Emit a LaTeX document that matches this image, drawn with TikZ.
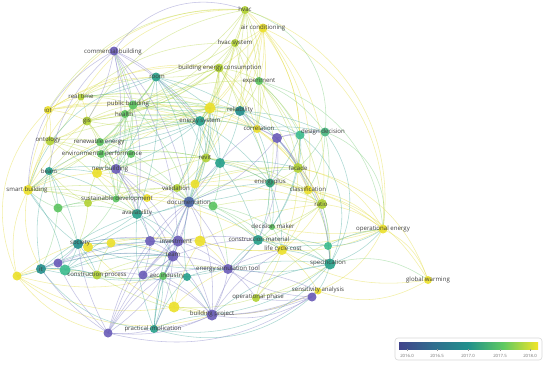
\documentclass[tikz,border=0pt]{standalone}
\usepackage{fontspec}
\setmainfont{Open Sans}
\pgfdeclarelayer{bglayer}
\pgfdeclarelayer{edgelayer}
\pgfsetlayers{bglayer,edgelayer,main}
\definecolor{cp}{HTML}{6A5CB8}
\definecolor{cb}{HTML}{4A64A4}
\definecolor{ct}{HTML}{26A08A}
\definecolor{ctd}{HTML}{238E8C}
\definecolor{ct2}{HTML}{3CBC8E}
\definecolor{ctg}{HTML}{2AA078}
\definecolor{cg}{HTML}{5CC460}
\definecolor{cg2}{HTML}{4AB880}
\definecolor{cyg}{HTML}{B2D234}
\definecolor{cy}{HTML}{ECE02A}
\definecolor{ey}{HTML}{E4DC3A}
\definecolor{eyg}{HTML}{B8D84A}
\definecolor{eg}{HTML}{78CC78}
\definecolor{et}{HTML}{48AAA0}
\definecolor{ep}{HTML}{7F7CC6}
\definecolor{v0}{HTML}{41448B}
\definecolor{v1}{HTML}{2F6E8E}
\definecolor{v2}{HTML}{21908C}
\definecolor{v3}{HTML}{5EC962}
\definecolor{v4}{HTML}{F2E527}
\tikzset{
  dotnode/.style={circle, inner sep=0pt, minimum size=#1, draw=none},
  lbl/.style={font=\fontsize{6.1}{6.7}\selectfont, text=black!75, inner sep=0pt},
  edgeline/.style={line width=0.55pt, draw opacity=0.45},
  barlbl/.style={font=\fontsize{4.3}{5}\selectfont, text=black!55, inner sep=0pt},
}
\begin{document}
\begin{tikzpicture}[x=1pt,y=-1pt]
\useasboundingbox (0,0) rectangle (550,365);
\begin{pgfonlayer}{bglayer}
\fill[white] (0,0) rectangle (550,365);
\end{pgfonlayer}
% nodes
\foreach \n/\x/\y/\c/\s in {
hvac/245/10/cyg/8, aircon/263/28/cy/9, hvacsys/235/43/cyg/8, commercial/114/51/cp/9,
bec/219/68/cyg/9, experiment/259/81/cg/8, room/156/77/ct/9, realtime/81/97/cyg/7,
iot/48/110/cy/8, public/133/105/cg/9, health/125/114/cg/8, bigy/210/108/cy/11,
reliability/240/111/ctd/10, gis/87/121/cyg/9, energysys/200/121/ct/10, correlation/257/129/cy/8,
purp1/277/138/cp/10, teal1/300/135/ct2/9, designdec/325/132/cg2/9, ontology/50/141/cyg/9,
renewable/100/142/cg/8, envperf/101/154/cg/8, green2/131/154/cg/8, revit/206/158/cyg/9,
teal2/220/163/ct/10, facade/298/168/cyg/10, beam/49/171/ct/8, newb/116/169/cp/10,
yel2/97/173/cy/10, energyplus/270/183/ctg/9, classif/308/190/cy/9, smart/28/190/cy/10,
validation/177/188/cyg/8, yel3/195/184/cy/9, ratio/322/204/cyg/10, sustdev/116/199/cg/7,
yel4/147/198/cy/8, green3/88/203/cyg/8, documentation/189/202/cb/11, green4/213/206/cg/9,
green5/58/208/cg/9, availability/137/214/ct/10, decmaker/272/227/cg/6, constmat/258/240/ct/10,
opener/383/229/cy/9, lcc/282/250/cy/10, teal3/328/246/ct2/8, spec/330/264/ct/11,
society/78/244/ctd/10, yel5/88/247/cy/10, yel6/111/243/cy/9, purp2/150/241/cp/10,
investment/178/241/cp/11, yel7/200/241/cy/11, team/173/256/cp/11, globalw/428/280/cy/8,
purp3/58/263/cp/9, it/41/269/ctd/10, teal4/65/270/ct2/11, yel8/17/276/cy/9,
constproc/97/275/cyg/9, purp4/143/275/cp/9, aec/163/276/cg/8, teal5/187/277/ct/8,
est/228/269/cp/10, sensit/318/291/cy/7, purp5/312/297/cp/9, opphase/256/298/cyg/8,
yel9/174/307/cy/11, bproject/212/315/cp/11, practical/154/329/ct/8, purp6/108/333/cp/9}
  \node[dotnode=\s, fill=\c, fill opacity=0.9] (\n) at (\x,\y) {};
% edges
\begin{pgfonlayer}{edgelayer}
\foreach \a/\b/\k in {
aircon/hvacsys/10, aircon/bec/10, aircon/facade/20, aircon/classif/22, aircon/ratio/25,
aircon/correlation/10, aircon/opener/35, aircon/reliability/10, aircon/bigy/10, aircon/experiment/10,
hvac/aircon/10, hvac/hvacsys/10, hvac/realtime/-30, hvac/facade/25, hvacsys/bigy/10, bec/bigy/10,
bec/correlation/12, bigy/correlation/10, bigy/validation/12, bigy/yel3/10, iot/gis/10, iot/smart/10,
iot/ontology/10, iot/yel8/-35, iot/realtime/10, iot/room/15, smart/yel8/-20, smart/ontology/10,
smart/gis/10, smart/realtime/15, smart/yel2/10, smart/it/-20, correlation/classif/15, correlation/ratio/15,
classif/ratio/10, classif/opener/20, classif/lcc/15, ratio/opener/15, ratio/lcc/10, opener/globalw/22,
opener/lcc/15, opener/sensit/20, lcc/globalw/-20, lcc/sensit/10, sensit/globalw/-25, yel2/newb/10,
yel2/yel4/10, yel4/validation/10, validation/yel3/10, yel3/yel7/10, yel7/investment/10, yel5/yel6/10,
yel6/yel7/10, yel9/bproject/10, yel9/yel7/10, yel8/it/10, yel8/purp6/-20, lcc/yel7/10,
facade/opener/25, facade/classif/10, facade/ratio/10, bigy/facade/15, gis/ontology/10, realtime/gis/10,
facade/globalw/30, classif/globalw/22, hvac/opener/40, hvac/smart/-45, yel8/bproject/-28,
yel8/society/10, yel8/constproc/15, yel2/availability/10, yel4/documentation/10, yel7/lcc/-10,
yel7/est/10, yel9/est/10, yel9/sensit/-20, yel6/team/10, yel5/investment/12, iot/public/10,
iot/energysys/12, realtime/bec/20, aircon/revit/10, aircon/energysys/12, opener/energyplus/-15,
opener/decmaker/10, opener/constmat/12, lcc/opphase/10, classif/spec/15, facade/lcc/10,
iot/bec/18, gis/bigy/12, yel2/bigy/12, yel2/validation/10, yel3/facade/10, yel3/classif/12,
validation/ratio/12, yel4/lcc/10, yel7/ratio/10, yel8/yel9/-20, yel5/yel9/-12, smart/bigy/15,
yel8/aec/-15, iot/correlation/15}
  \draw[edgeline, draw=ey] (\a.center) to[bend left=\k] (\b.center);
\foreach \a/\b/\k in {
hvac/bec/10, hvac/experiment/15, hvac/energysys/10, hvac/reliability/10, hvac/room/15, hvac/public/20,
hvac/revit/10, hvac/correlation/10, hvacsys/bec/10, hvacsys/experiment/10, hvacsys/energysys/10,
hvacsys/room/10, hvacsys/realtime/-20, hvacsys/health/15, bec/experiment/10, bec/room/10, bec/reliability/10,
bec/energysys/10, bec/public/12, bec/revit/10, bec/facade/15, bec/validation/10, bec/gis/15,
experiment/correlation/10, experiment/facade/15, experiment/energyplus/15, experiment/classif/18,
experiment/ratio/20, realtime/public/10, realtime/energysys/15, realtime/ontology/10, gis/beam/10,
gis/renewable/10, gis/envperf/10, gis/newb/10, ontology/beam/10, ontology/renewable/10, ontology/envperf/10,
revit/validation/10, revit/yel3/10, revit/energyplus/10, facade/energyplus/10, energyplus/classif/10,
energyplus/ratio/10, green3/sustdev/10, green3/yel2/10, green3/beam/10, constproc/society/10,
constproc/yel6/10, opphase/sensit/10, opphase/yel9/10, opphase/lcc/15, opphase/opener/20, ratio/spec/10,
validation/documentation/10, validation/availability/10, hvac/gis/-25, hvac/iot/-30, bec/health/12,
bec/energyplus/10, hvacsys/reliability/10, hvacsys/correlation/10, experiment/reliability/10,
gis/public/10, gis/energysys/-10, ontology/newb/10, ontology/sustdev/10, smart/documentation/12,
smart/availability/10, realtime/room/10, ratio/decmaker/10, ratio/constmat/10, opphase/spec/-10,
constproc/team/10, green3/society/10, bec/documentation/10, realtime/reliability/12, realtime/bigy/12,
gis/reliability/12, ontology/energysys/12, smart/energysys/12, smart/room/-15, health/bec/10,
public/experiment/12, gis/correlation/12, envperf/revit/10, envperf/bigy/10, yel2/revit/10, newb/revit/10,
sustdev/validation/10, sustdev/revit/10, green3/validation/10, smart/sustdev/10, smart/green3/10,
revit/ratio/12, revit/classif/12, validation/facade/12, green4/ratio/10, constproc/bproject/-12,
constproc/est/10}
  \draw[edgeline, draw=eyg] (\a.center) to[bend left=\k] (\b.center);
\foreach \a/\b/\k in {
hvac/designdec/40, public/health/10, public/energysys/10, public/envperf/10, public/renewable/10,
public/newb/10, public/sustdev/10, public/bigy/10, public/reliability/10, health/envperf/10,
health/renewable/10, health/sustdev/10, health/availability/10, renewable/envperf/10, renewable/green2/10,
renewable/newb/10, renewable/sustdev/10, envperf/green2/10, envperf/yel2/10, envperf/sustdev/10,
envperf/availability/10, green2/revit/10, green2/documentation/10, green2/newb/10, experiment/designdec/15,
experiment/teal1/10, green4/constmat/10, green4/decmaker/10, green4/documentation/10, green5/society/10,
green5/it/10, green5/green3/10, green5/smart/10, sustdev/yel4/10, sustdev/availability/10,
sustdev/society/10, designdec/facade/10, designdec/classif/15, designdec/opener/40, decmaker/constmat/10,
decmaker/lcc/10, decmaker/spec/10, decmaker/energyplus/10, globalw/spec/-25, aec/constproc/10,
aec/teal5/10, commercial/public/10, commercial/health/10, room/public/10, room/health/10,
newb/sustdev/10, teal2/green4/10, bigy/public/10, bigy/health/10, energysys/health/10, green5/beam/10,
green5/availability/12, envperf/documentation/10, health/newb/10, renewable/energysys/10,
designdec/ratio/15, experiment/opener/35, green4/lcc/10, green4/est/10, public/documentation/12,
renewable/reliability/12, green5/yel4/10, documentation/facade/12, teal4/aec/-10, aec/yel9/10}
  \draw[edgeline, draw=eg] (\a.center) to[bend left=\k] (\b.center);
\foreach \a/\b/\k in {
room/energysys/10, room/bigy/10, room/documentation/15, room/reliability/10, room/realtime/10,
room/smart/-30, energysys/revit/10, energysys/teal2/10, energysys/documentation/10, energysys/renewable/10,
energysys/envperf/10, energysys/newb/10, energysys/validation/10, energysys/correlation/10,
energysys/energyplus/10, reliability/correlation/10, reliability/energysys/10, reliability/teal1/10,
reliability/designdec/10, reliability/facade/15, reliability/energyplus/10, reliability/teal2/10,
teal1/designdec/10, teal1/facade/10, teal1/energyplus/10, teal1/spec/40, teal1/decmaker/15,
designdec/spec/35, teal2/documentation/10, teal2/yel3/10, teal2/energyplus/10, teal2/constmat/10,
teal2/facade/10, revit/teal2/10, revit/documentation/10, beam/smart/10, beam/newb/10, beam/yel2/10,
beam/it/-15, beam/green5/10, energyplus/decmaker/10, energyplus/constmat/10, energyplus/lcc/10,
energyplus/documentation/10, documentation/availability/10, documentation/constmat/10,
availability/society/10, availability/investment/10, availability/team/10, availability/purp2/10,
constmat/lcc/10, constmat/spec/10, constmat/est/10, constmat/teal3/10, opener/spec/15, opener/teal3/15,
lcc/spec/10, lcc/teal3/10, teal3/spec/10, ratio/teal3/10, spec/sensit/10, spec/est/10, spec/bproject/-15,
spec/practical/30, society/yel5/10, society/it/10, society/teal4/10, society/constproc/10, society/smart/10,
it/teal4/10, it/yel8/10, it/constproc/10, it/practical/-25, teal4/smart/-15, teal4/constproc/10,
aec/practical/10, teal5/est/10, teal5/bproject/10, practical/teal5/10, practical/sensit/-30,
practical/bproject/10, bigy/energysys/10, bigy/reliability/10, bigy/teal2/10, bigy/documentation/10,
bigy/revit/10, room/newb/10, room/availability/12, room/teal2/10, room/revit/10, it/availability/10,
it/investment/12, it/team/12, society/team/10, society/purp2/10, teal4/team/10, teal4/investment/10,
beam/sustdev/10, beam/society/10, practical/investment/10, practical/team/10, practical/documentation/12,
practical/availability/12, documentation/energyplus/10, documentation/revit/10, correlation/teal1/10,
correlation/designdec/10, correlation/energyplus/10, facade/spec/15, facade/decmaker/10, teal3/opener/12,
est/spec/10, est/constmat/10, bproject/spec/-15, teal5/documentation/10, teal4/documentation/12,
it/est/-12, society/est/-10, beam/energysys/12}
  \draw[edgeline, draw=et] (\a.center) to[bend left=\k] (\b.center);
\foreach \a/\b/\k in {
commercial/hvac/38, commercial/room/10, commercial/newb/10, commercial/energysys/10, commercial/smart/-30,
commercial/gis/10, commercial/documentation/15, commercial/availability/15, commercial/investment/15,
correlation/purp1/10, purp1/teal1/10, purp1/designdec/10, purp1/energyplus/10, purp1/facade/10,
purp1/documentation/15, purp1/constmat/15, purp1/reliability/10, newb/documentation/10,
newb/availability/10, newb/investment/10, newb/team/10, documentation/investment/10, documentation/team/10,
documentation/est/10, documentation/bproject/15, documentation/purp4/10, investment/team/10,
investment/yel7/10, investment/purp2/10, investment/est/10, investment/bproject/10, investment/aec/10,
team/est/10, team/aec/10, team/bproject/10, team/purp4/10, team/practical/10, team/purp6/15,
society/purp3/10, society/investment/10, it/purp3/10, it/purp6/-10, constproc/purp4/10, aec/est/10,
aec/bproject/10, est/bproject/10, est/sensit/10, est/opphase/10, est/purp5/-15, sensit/purp5/10,
purp5/bproject/10, purp5/opphase/10, bproject/practical/10, bproject/purp6/15, practical/purp6/10,
purp6/purp3/10, purp6/society/10, purp6/purp2/10, purp2/team/10, purp2/purp4/10, purp4/bproject/15,
purp3/teal4/10, purp3/investment/10, purp6/sensit/-25, purp6/team/10, purp6/investment/12,
purp6/aec/10, purp6/documentation/12, purp3/team/10, bproject/sensit/-12, bproject/purp5/-20,
bproject/lcc/12, bproject/constmat/10, est/lcc/10, investment/constmat/10, team/constmat/10,
team/documentation/10, commercial/beam/-20, commercial/public/-10, purp1/classif/10, purp1/spec/20,
documentation/correlation/10, newb/purp2/10, purp4/investment/10, purp2/documentation/10}
  \draw[edgeline, draw=ep] (\a.center) to[bend left=\k] (\b.center);
\end{pgfonlayer}
% labels
\foreach \n/\t/\x/\y in {
hvac/hvac/245/9, aircon/air conditioning/263/28, hvacsys/hvac system/235/43,
commercial/commercial building/113/52, bec/building energy consumption/220/68, experiment/experiment/259/81,
room/room/157/77, realtime/real time/81/96, iot/iot/48/110, public/public building/128/104,
health/health/124/114, reliability/reliability/240/110, gis/gis/87/121, energysys/energy system/200/121,
correlation/correlation/259/128, designdec/design decision/323/132, ontology/ontology/48/140,
renewable/renewable energy/99/142, envperf/environmental performance/102/154, revit/revit/205/157,
facade/facade/298/168, beam/beam/49/171, newb/new building/110/169, energyplus/energyplus/270/182,
classif/classification/308/189, smart/smart building/27/190, validation/validation/176/188,
ratio/ratio/321/204, sustdev/sustainable development/117/199, documentation/documentation/189/202,
availability/availability/137/213, decmaker/decision maker/273/226, constmat/construction material/259/239,
opener/operational energy/383/229, lcc/life cycle cost/283/249, spec/specification/328/263,
society/society/80/243, investment/investment/176/241, team/team/173/255, globalw/global warming/428/280,
it/it/41/269, constproc/construction process/97/275, aec/aec industry/167/276,
est/energy simulation tool/228/269, sensit/sensitivity analysis/318/290, opphase/operational phase/258/297,
bproject/building project/212/314, practical/practical implication/153/329}
  \node[lbl] (\n-l) at (\x,\y) {\t};
% colour bar
\draw[black!15, fill=white, rounded corners=3pt, line width=0.6pt] (395,338) rectangle (542,360);
\shade[left color=v0, right color=v1] (399,342) rectangle (434,349);
\shade[left color=v1, right color=v2] (434,342) rectangle (468,349);
\shade[left color=v2, right color=v3] (468,342) rectangle (503,349);
\shade[left color=v3, right color=v4] (503,342) rectangle (538,349);
\foreach \x/\t in {407/2016.0, 437/2016.5, 468/2017.0, 500/2017.5, 530/2018.0} {
  \draw[black!40, line width=0.3pt] (\x,349) -- (\x,351);
  \node[barlbl] at (\x,355.5) {\t};
}
\end{tikzpicture}
\end{document}
